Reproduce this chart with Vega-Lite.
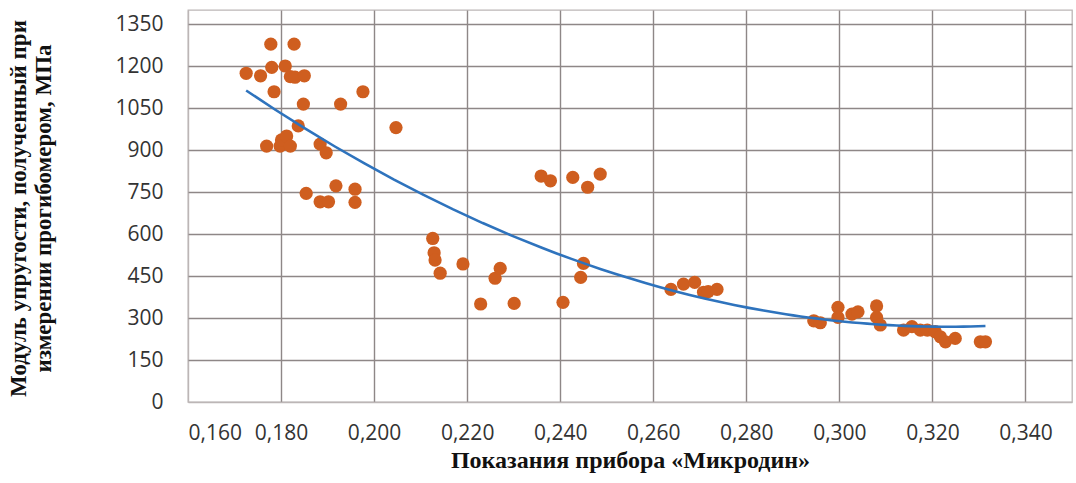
{
  "$schema": "https://vega.github.io/schema/vega-lite/v6.json",
  "autosize": "none",
  "width": 884,
  "height": 392,
  "padding": {"left": 188, "top": 10, "right": 4, "bottom": 81},
  "background": "white",
  "config": {
    "view": {"stroke": "#bcb6b6", "strokeWidth": 1.3},
    "axis": {"domain": false, "ticks": false, "gridWidth": 1.4, "labelFont": "Open Sans", "labelFontSize": 21, "labelColor": "#333333", "titleFont": "Liberation Serif", "titleFontWeight": "bold", "titleFontSize": 24, "titleColor": "#111111"}
  },
  "data": {"values": [
    {"x": 0.1725, "y": 1174}, {"x": 0.1756, "y": 1165}, {"x": 0.1769, "y": 914}, {"x": 0.1778, "y": 1278},
    {"x": 0.1780, "y": 1195}, {"x": 0.1785, "y": 1108}, {"x": 0.1798, "y": 914}, {"x": 0.1801, "y": 936},
    {"x": 0.1809, "y": 1200}, {"x": 0.1812, "y": 950}, {"x": 0.1820, "y": 1162}, {"x": 0.1820, "y": 914},
    {"x": 0.1828, "y": 1278}, {"x": 0.1830, "y": 1160}, {"x": 0.1837, "y": 986}, {"x": 0.1848, "y": 1064},
    {"x": 0.1850, "y": 1165}, {"x": 0.1854, "y": 745}, {"x": 0.1884, "y": 921}, {"x": 0.1884, "y": 715},
    {"x": 0.1897, "y": 890}, {"x": 0.1902, "y": 715}, {"x": 0.1918, "y": 772}, {"x": 0.1928, "y": 1064},
    {"x": 0.1959, "y": 760}, {"x": 0.1959, "y": 713}, {"x": 0.1976, "y": 1108}, {"x": 0.2047, "y": 980},
    {"x": 0.2126, "y": 584}, {"x": 0.2129, "y": 533}, {"x": 0.2131, "y": 507}, {"x": 0.2142, "y": 460},
    {"x": 0.2191, "y": 493}, {"x": 0.2229, "y": 350}, {"x": 0.2260, "y": 442}, {"x": 0.2271, "y": 477},
    {"x": 0.2301, "y": 352}, {"x": 0.2359, "y": 807}, {"x": 0.2379, "y": 790}, {"x": 0.2406, "y": 356},
    {"x": 0.2427, "y": 802}, {"x": 0.2444, "y": 445}, {"x": 0.2450, "y": 495}, {"x": 0.2459, "y": 767},
    {"x": 0.2486, "y": 814}, {"x": 0.2638, "y": 402}, {"x": 0.2665, "y": 421}, {"x": 0.2689, "y": 427},
    {"x": 0.2708, "y": 392}, {"x": 0.2718, "y": 394}, {"x": 0.2737, "y": 402}, {"x": 0.2945, "y": 290},
    {"x": 0.2959, "y": 283}, {"x": 0.2997, "y": 338}, {"x": 0.2997, "y": 302}, {"x": 0.3027, "y": 314},
    {"x": 0.3040, "y": 322}, {"x": 0.3080, "y": 343}, {"x": 0.3080, "y": 302}, {"x": 0.3088, "y": 275},
    {"x": 0.3138, "y": 257}, {"x": 0.3156, "y": 269}, {"x": 0.3174, "y": 257}, {"x": 0.3189, "y": 257},
    {"x": 0.3206, "y": 251}, {"x": 0.3217, "y": 233}, {"x": 0.3228, "y": 215}, {"x": 0.3249, "y": 227},
    {"x": 0.3303, "y": 215}, {"x": 0.3314, "y": 215}
  ]},
  "layer": [
    {
      "mark": {"type": "circle", "size": 175, "opacity": 1, "color": "#CF5E1F"},
      "encoding": {
        "x": {"field": "x", "type": "quantitative",
          "scale": {"domain": [0.16, 0.35], "nice": false, "zero": false},
          "axis": {
            "values": [0.16, 0.18, 0.2, 0.22, 0.24, 0.26, 0.28, 0.3, 0.32, 0.34],
            "labelExpr": "replace(format(datum.value, '.3f'), '.', ',')",
            "labelPadding": 20,
            "gridColor": {"condition": {"test": "datum.value < 0.161", "value": "#bcb6b6"}, "value": "#8e8787"},
            "title": "Показания прибора «Микродин»",
            "titleY": 65, "titleBaseline": "alphabetic"
          }
        },
        "y": {"field": "y", "type": "quantitative",
          "scale": {"domain": [0, 1400], "nice": false},
          "axis": {
            "values": [0, 150, 300, 450, 600, 750, 900, 1050, 1200, 1350],
            "format": "d",
            "labelPadding": 25,
            "gridColor": {"condition": {"test": "datum.value < 1", "value": "#bcb6b6"}, "value": "#8e8787"},
            "title": ["Модуль упругости, полученный при", "измерении прогибомером, МПа"],
            "titleFontSize": 23,
            "titleX": -170, "titleY": 198, "titleAngle": -90, "titleAlign": "center", "titleBaseline": "middle", "titleLineHeight": 25
          }
        }
      }
    },
    {
      "transform": [{"regression": "y", "on": "x", "method": "poly", "order": 2}],
      "mark": {"type": "line", "color": "#2E73BD", "strokeWidth": 2.6},
      "encoding": {
        "x": {"field": "x", "type": "quantitative"},
        "y": {"field": "y", "type": "quantitative"}
      }
    }
  ]
}
